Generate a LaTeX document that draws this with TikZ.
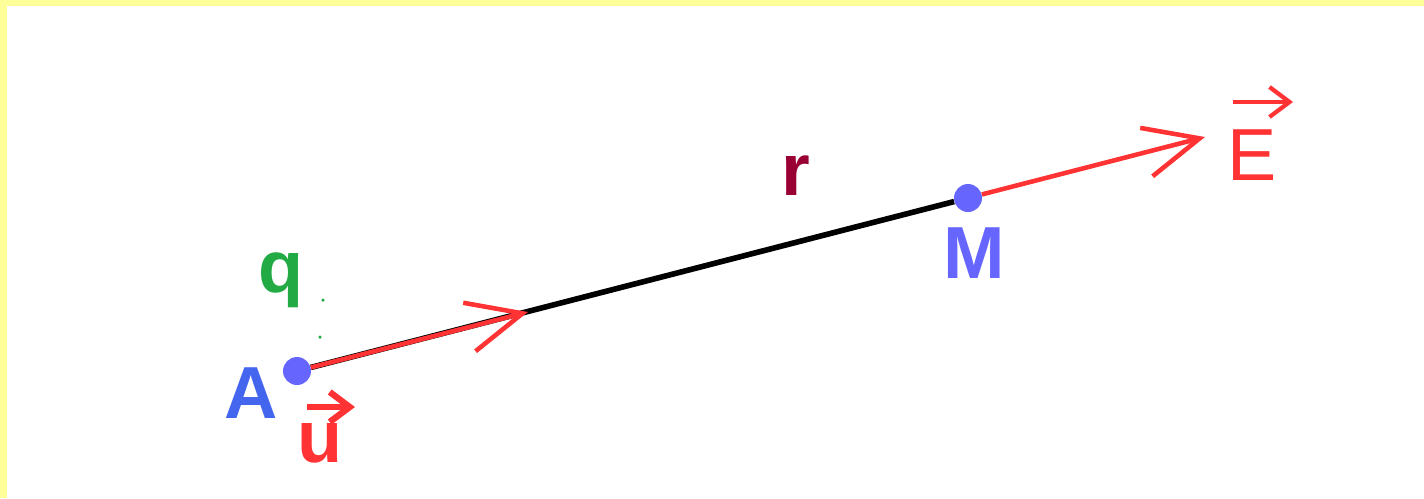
\documentclass[tikz,border=0pt]{standalone}
\usepackage{fontspec}
\setmainfont{Liberation Sans}
\usetikzlibrary{arrows.meta}
\definecolor{dotblue}{RGB}{102,102,255}
\definecolor{labblue}{RGB}{68,102,238}
\definecolor{vecred}{RGB}{255,51,51}
\definecolor{chargegreen}{RGB}{34,170,68}
\definecolor{distred}{RGB}{153,0,51}
\definecolor{framey}{RGB}{255,255,153}
\begin{document}
\begin{tikzpicture}[
  x=0.02cm, y=-0.02cm,
  pt/.style={circle, fill=dotblue, inner sep=0pt, minimum size=0.56cm},
  lbl/.style={inner sep=0pt, anchor=base, font=\fontsize{42}{42}\selectfont\bfseries},
  vec/.style={-{Straight Barb[length=1.1cm, width=1cm]}, vecred, line width=2.6pt},
  hat/.style={-{Straight Barb[length=0.4cm, width=0.6cm]}, vecred, line width=2.4pt},
  ray/.style={black, line width=3.2pt}
]
  \useasboundingbox (0,0) rectangle (1424,498);
  % frame edges
  \fill[framey] (0,0) rectangle (1424,6);
  \fill[framey] (0,0) rectangle (7,498);

  % the charge and the point
  \node[pt] (A) at (297,371) {};
  \node[pt] (M) at (968,198) {};
  \coordinate (utip) at (528,312);
  \coordinate (Etip) at (1205,137);

  \draw[ray] (A) -- (M);
  \draw[vec] (A) -- (utip);
  \draw[vec] (M) -- (Etip);

  % labels
  \node[lbl, labblue] (Alab) at (251,418) {A};
  \node[lbl, dotblue] (Mlab) at (974,278) {M};
  \node[lbl, chargegreen] (qlab) at (281,292) {q};
  \node[lbl, distred] (rlab) at (796,195) {r};
  \node[lbl, vecred] (ulab) at (320,462) {u};
  \node[lbl, vecred, font=\fontsize{42}{42}\selectfont] (Elab) at (1252,180) {E};
  \fill[chargegreen] (323,300) circle (0.035cm);
  \fill[chargegreen] (320,337) circle (0.035cm);

  % arrows over the letters
  \coordinate (ua) at (307,407);
  \coordinate (ub) at (355,407);
  \coordinate (Ea) at (1233,102);
  \coordinate (Eb) at (1293,102);
  \draw[hat, line width=3.6pt] (ua) -- (ub);
  \draw[hat] (Ea) -- (Eb);
\end{tikzpicture}
\end{document}
